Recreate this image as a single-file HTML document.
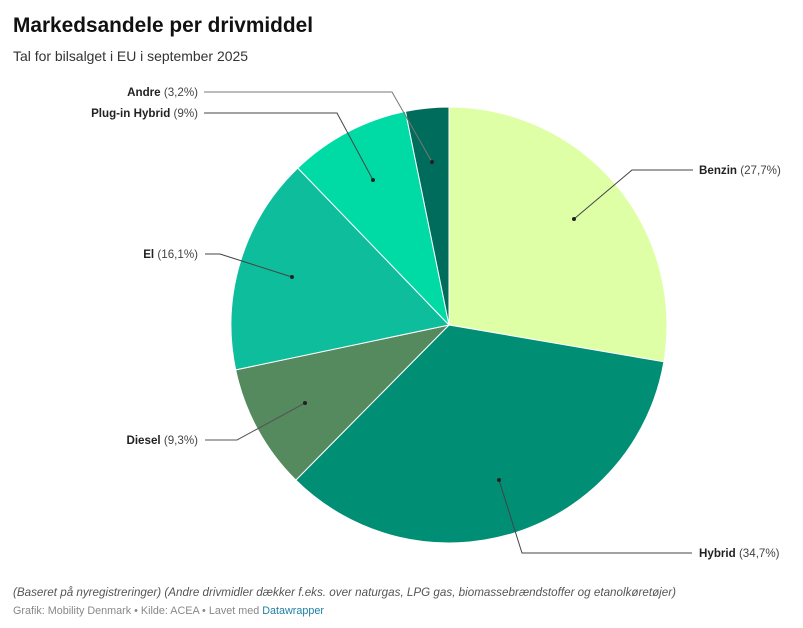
<!DOCTYPE html>
<html><head><meta charset="utf-8"><style>
html,body{margin:0;padding:0;background:#fff;}
svg{display:block;font-family:"Liberation Sans",Arial,sans-serif;}
</style></head><body>
<svg width="803" height="628" viewBox="0 0 803 628" xmlns="http://www.w3.org/2000/svg">
<rect width="803" height="628" fill="#fff"/>
<text x="13" y="32" font-size="21.5" font-weight="bold" fill="#111" textLength="300" lengthAdjust="spacingAndGlyphs">Markedsandele per drivmiddel</text>
<text x="13" y="61" font-size="14" fill="#333" textLength="235" lengthAdjust="spacingAndGlyphs">Tal for bilsalget i EU i september 2025</text>

<g stroke="#fff" stroke-width="1" stroke-linejoin="round">
<path d="M449,325 L449,107 A218,218 0 0 1 663.87,361.81 Z" fill="#dfffa6"/>
<path d="M449,325 L663.87,361.81 A218,218 0 0 1 295.82,480.11 Z" fill="#008e74"/>
<path d="M449,325 L295.82,480.11 A218,218 0 0 1 235.67,369.88 Z" fill="#558a5e"/>
<path d="M449,325 L235.67,369.88 A218,218 0 0 1 297.77,167.98 Z" fill="#0ebd9c"/>
<path d="M449,325 L297.77,167.98 A218,218 0 0 1 405.46,111.39 Z" fill="#00dba6"/>
<path d="M449,325 L405.46,111.39 A218,218 0 0 1 449,107 Z" fill="#006c5b"/>
</g>

<g fill="none" stroke-width="1">
<polyline points="204,92 392,92 432,162" stroke="#777"/>
<polyline points="204,113 337,113 373,180" stroke="#444"/>
<polyline points="205,254 220,254 292,277" stroke="#444"/>
<polyline points="205,440 237,440 305,403" stroke="#555"/>
<polyline points="693,170 632,170 574,219" stroke="#444"/>
<polyline points="692,553 522,553 499,480" stroke="#444"/>
</g>
<g fill="#222">
<circle cx="432" cy="162" r="2"/>
<circle cx="373" cy="180" r="2"/>
<circle cx="292" cy="277" r="2"/>
<circle cx="305" cy="403" r="2"/>
<circle cx="574" cy="219" r="2"/>
<circle cx="499" cy="480" r="2"/>
</g>

<g font-size="11.6" fill="#222">
<text x="198" y="96" text-anchor="end"><tspan font-weight="bold">Andre</tspan><tspan fill="#444"> (3,2%)</tspan></text>
<text x="198" y="117" text-anchor="end"><tspan font-weight="bold">Plug-in Hybrid</tspan><tspan fill="#444"> (9%)</tspan></text>
<text x="198" y="258" text-anchor="end"><tspan font-weight="bold">El</tspan><tspan fill="#444"> (16,1%)</tspan></text>
<text x="198" y="444" text-anchor="end"><tspan font-weight="bold">Diesel</tspan><tspan fill="#444"> (9,3%)</tspan></text>
<text x="699" y="174"><tspan font-weight="bold">Benzin</tspan><tspan fill="#444"> (27,7%)</tspan></text>
<text x="699" y="557"><tspan font-weight="bold">Hybrid</tspan><tspan fill="#444"> (34,7%)</tspan></text>
</g>

<text x="13" y="596" font-size="12" font-style="italic" fill="#555" textLength="663" lengthAdjust="spacingAndGlyphs">(Baseret på nyregistreringer) (Andre drivmidler dækker f.eks. over naturgas, LPG gas, biomassebrændstoffer og etanolkøretøjer)</text>
<text x="13" y="614" font-size="11" fill="#888" textLength="311" lengthAdjust="spacingAndGlyphs">Grafik: Mobility Denmark • Kilde: ACEA • Lavet med <tspan fill="#1d81a2">Datawrapper</tspan></text>
</svg>
</body></html>
